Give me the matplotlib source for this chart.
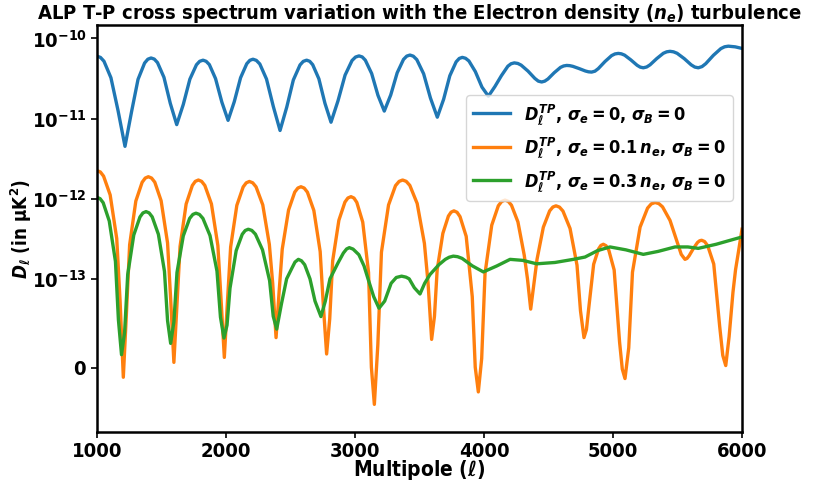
import matplotlib
matplotlib.use("Agg")
import numpy as np
import matplotlib.pyplot as plt
from matplotlib.ticker import NullLocator

plt.rcParams['font.family'] = 'DejaVu Sans'
plt.rcParams['font.weight'] = 'bold'
plt.rcParams['font.stretch'] = 'condensed'
plt.rcParams['axes.titleweight'] = 'bold'
plt.rcParams['axes.labelweight'] = 'bold'
plt.rcParams['mathtext.fontset'] = 'custom'
plt.rcParams['mathtext.rm'] = 'DejaVu Sans:weight=bold:stretch=condensed'
plt.rcParams['mathtext.bf'] = 'DejaVu Sans:weight=bold:stretch=condensed'
plt.rcParams['mathtext.sf'] = 'DejaVu Sans:weight=bold:stretch=condensed'
plt.rcParams['mathtext.it'] = 'DejaVu Sans:style=italic:weight=bold:stretch=condensed'

# ---- data ----
ell_blue = [1000, 1027, 1054, 1108, 1163, 1217, 1268, 1318, 1369, 1394, 1419, 1444, 1469, 1519, 1568, 1618,
            1669, 1720, 1771, 1796, 1822, 1846, 1871, 1919, 1968, 2016, 2064, 2113, 2161, 2185, 2209, 2235,
            2262, 2314, 2367, 2419, 2471, 2522, 2574, 2599, 2625, 2649, 2672, 2720, 2767, 2814, 2868, 2923,
            2977, 3004, 3031, 3056, 3080, 3129, 3178, 3227, 3277, 3327, 3376, 3401, 3426, 3452, 3479, 3532,
            3585, 3638, 3687, 3735, 3784, 3808, 3832, 3857, 3883, 3933, 3984, 4034, 4084, 4135, 4185, 4210,
            4235, 4262, 4288, 4341, 4394, 4421, 4447, 4471, 4496, 4544, 4593, 4617, 4641, 4665, 4689, 4738,
            4786, 4810, 4834, 4860, 4886, 4938, 4989, 5015, 5041, 5065, 5090, 5138, 5187, 5211, 5235, 5261,
            5287, 5339, 5390, 5416, 5442, 5469, 5497, 5552, 5606, 5634, 5661, 5690, 5719, 5778, 5836, 5865,
            5894, 5947, 6000]
dl_blue_e11 = [6.0, 5.79, 5.19, 3.23, 1.26, 0.45, 1.22, 3.08, 4.93, 5.50, 5.7, 5.52, 4.99, 3.27, 1.55, 0.84,
               1.50, 3.10, 4.69, 5.18, 5.35, 5.18, 4.71, 3.15, 1.60, 0.95, 1.62, 3.23, 4.83, 5.33, 5.5, 5.32,
               4.80, 3.11, 1.41, 0.71, 1.39, 3.03, 4.67, 5.17, 5.35, 5.18, 4.70, 3.13, 1.55, 0.90, 1.66, 3.48,
               5.30, 5.85, 6.05, 5.87, 5.35, 3.65, 1.95, 1.24, 1.97, 3.72, 5.47, 6.01, 6.2, 6.00, 5.44, 3.62,
               1.80, 1.04, 1.74, 3.42, 5.10, 5.62, 5.8, 5.65, 5.23, 3.85, 2.47, 1.9, 2.50, 3.43, 4.50, 4.83,
               4.95, 4.87, 4.64, 3.91, 3.17, 2.93, 2.86, 2.93, 3.12, 3.73, 4.35, 4.53, 4.6, 4.57, 4.48, 4.20,
               3.92, 3.83, 3.8, 3.90, 4.20, 5.15, 6.10, 6.40, 6.5, 6.42, 6.18, 5.40, 4.62, 4.38, 4.3, 4.40,
               4.68, 5.60, 6.52, 6.80, 6.9, 6.80, 6.52, 5.60, 4.68, 4.39, 4.3, 4.45, 4.84, 6.15, 7.46, 7.86,
               8.0, 7.85, 7.5]

ell_orange = [1000, 1026, 1051, 1102, 1153, 1179, 1204, 1228, 1253, 1301, 1350, 1374, 1398, 1423, 1448, 1497,
              1547, 1571, 1596, 1620, 1644, 1691, 1739, 1762, 1786, 1811, 1836, 1887, 1937, 1962, 1987, 2011,
              2036, 2084, 2133, 2157, 2181, 2207, 2233, 2285, 2336, 2362, 2388, 2412, 2436, 2485, 2533, 2557,
              2581, 2606, 2631, 2681, 2730, 2755, 2780, 2804, 2827, 2875, 2922, 2945, 2969, 2992, 3014, 3060,
              3105, 3127, 3150, 3177, 3205, 3260, 3314, 3342, 3369, 3397, 3425, 3482, 3538, 3566, 3594, 3616,
              3637, 3681, 3724, 3745, 3767, 3791, 3814, 3862, 3909, 3932, 3956, 3982, 4008, 4060, 4111, 4137,
              4163, 4188, 4213, 4263, 4312, 4337, 4362, 4387, 4411, 4460, 4509, 4534, 4558, 4585, 4612, 4667,
              4721, 4748, 4775, 4794, 4813, 4850, 4888, 4906, 4925, 4946, 4967, 5009, 5051, 5072, 5093, 5122,
              5151, 5210, 5268, 5297, 5326, 5355, 5384, 5442, 5500, 5529, 5558, 5574, 5590, 5623, 5655, 5671,
              5687, 5710, 5734, 5781, 5827, 5851, 5874, 5900, 5930, 5950, 5971, 6000]
dl_orange_e13 = [22.4, 21.55, 19.11, 11.15, 3.18, 0.75, -0.105, 0.61, 2.66, 9.35, 16.04, 18.08, 18.8, 18.09,
                 16.06, 9.43, 2.80, 0.774, 0.062, 0.71, 2.55, 8.58, 14.61, 16.45, 17.1, 16.45, 14.62, 8.61,
                 2.60, 0.76, 0.118, 0.74, 2.50, 8.26, 14.02, 15.78, 16.4, 15.79, 14.05, 8.37, 2.69, 0.95,
                 0.34, 0.86, 2.35, 7.22, 12.09, 13.58, 14.1, 13.57, 12.06, 7.13, 2.19, 0.69, 0.156, 0.55,
                 1.68, 5.38, 9.07, 10.20, 10.6, 10.18, 8.99, 5.10, 1.20, 0.008, -0.41, 0.26, 2.15, 8.35,
                 14.54, 16.44, 17.1, 16.46, 14.65, 8.71, 2.77, 0.96, 0.32, 0.58, 1.30, 3.69, 6.07, 6.79,
                 7.05, 6.77, 5.98, 3.39, 0.80, 0.008, -0.27, 0.105, 1.17, 4.67, 8.16, 9.23, 9.6, 9.26,
                 8.29, 5.13, 1.97, 1.00, 0.66, 0.945, 1.75, 4.41, 7.05, 7.87, 8.15, 7.85, 7.01, 4.25,
                 1.48, 0.64, 0.34, 0.43, 0.685, 1.52, 2.36, 2.61, 2.7, 2.59, 2.29, 1.29, 0.29, -0.013,
                 -0.12, 0.225, 1.21, 4.42, 7.63, 8.62, 8.96, 8.69, 7.91, 5.36, 2.80, 2.02, 1.75, 1.80,
                 1.94, 2.39, 2.84, 2.98, 3.03, 2.92, 2.59, 1.53, 0.466, 0.14, 0.026, 0.35, 0.85, 1.3,
                 2.1, 4.16]

ell_green = [1000, 1024, 1048, 1095, 1143, 1166, 1190, 1214, 1238, 1285, 1333, 1356, 1380, 1404, 1428, 1476,
             1523, 1547, 1571, 1596, 1620, 1669, 1718, 1743, 1767, 1794, 1821, 1876, 1930, 1957, 1984, 2008,
             2031, 2079, 2126, 2149, 2173, 2200, 2228, 2283, 2338, 2366, 2393, 2430, 2470, 2510, 2535, 2561,
             2585, 2610, 2651, 2690, 2736, 2770, 2806, 2870, 2910, 2935, 2956, 2985, 3030, 3070, 3101, 3145,
             3186, 3230, 3280, 3320, 3361, 3395, 3420, 3460, 3504, 3540, 3581, 3650, 3700, 3730, 3762, 3795,
             3830, 3910, 3995, 4100, 4202, 4300, 4408, 4550, 4692, 4783, 4880, 4977, 5100, 5235, 5350, 5481,
             5580, 5661, 5800, 5900, 6000]
dl_green_e13 = [10.4, 10.01, 8.90, 5.27, 1.65, 0.54, 0.148, 0.40, 1.13, 3.52, 5.91, 6.64, 6.9, 6.65, 5.93,
                3.59, 1.24, 0.53, 0.275, 0.515, 1.20, 3.44, 5.67, 6.36, 6.6, 6.36, 5.68, 3.47, 1.25, 0.57,
                0.335, 0.48, 0.895, 2.25, 3.60, 4.01, 4.16, 4.02, 3.61, 2.30, 0.98, 0.58, 0.435, 0.72, 1.0,
                1.35, 1.62, 1.75, 1.68, 1.50, 1.0, 0.75, 0.576, 0.75, 1.0, 1.6, 2.1, 2.36, 2.45, 2.35, 2.0,
                1.45, 1.0, 0.8, 0.67, 0.75, 0.95, 1.04, 1.08, 1.05, 1.0, 0.9, 0.83, 0.95, 1.13, 1.5, 1.75,
                1.86, 1.92, 1.89, 1.8, 1.45, 1.22, 1.45, 1.75, 1.7, 1.54, 1.6, 1.75, 1.87, 2.25, 2.5, 2.3,
                2.02, 2.2, 2.5, 2.5, 2.4, 2.7, 3.0, 3.33]

dl_blue = np.array(dl_blue_e11) * 1e-11
dl_orange = np.array(dl_orange_e13) * 1e-13
dl_green = np.array(dl_green_e13) * 1e-13

labels = [r'$D_\ell^{TP}$, $\sigma_e=0$, $\sigma_B=0$',
          r'$D_\ell^{TP}$, $\sigma_e=0.1\,n_e$, $\sigma_B=0$',
          r'$D_\ell^{TP}$, $\sigma_e=0.3\,n_e$, $\sigma_B=0$']
colors = ['#1f77b4', '#ff7f0e', '#2ca02c']
xticks = [1000, 2000, 3000, 4000, 5000, 6000]

fig = plt.figure(figsize=(8.14, 4.86), dpi=100)
ax = fig.add_axes([97/814, 1-432/486, (742-97)/814, (432-25)/486])

ax.plot(ell_blue, dl_blue, color=colors[0], lw=2.4, label=labels[0])
ax.plot(ell_orange, dl_orange, color=colors[1], lw=2.4, label=labels[1])
ax.plot(ell_green, dl_green, color=colors[2], lw=2.4, label=labels[2])

ax.set_yscale('symlog', linthresh=1e-13, linscale=1)
ax.set_xlim(1000, 6000)
ax.set_ylim(-7.2e-14, 1.47e-10)
ax.set_xticks(xticks)
ax.yaxis.set_minor_locator(NullLocator())
ax.tick_params(labelsize=14.5, width=1.2, length=4)
for lab in ax.get_xticklabels() + ax.get_yticklabels():
    lab.set_fontweight('bold')
for s in ax.spines.values():
    s.set_linewidth(1.8)

ax.set_xlabel(r'Multipole ($\ell$)', fontsize=15)
ax.xaxis.set_label_coords(0.5, -0.064)
ax.set_ylabel(r'$D_\ell$ (in μK$^2$)', fontsize=13.5)
ax.yaxis.set_label_coords(-0.098, 0.5)
ax.set_title(r'ALP T-P cross spectrum variation with the Electron density ($n_e$) turbulence',
             fontsize=14.5, pad=-1.5)
ax.legend(loc='upper right', bbox_to_anchor=(1.0, 0.85), fontsize=13)

fig.savefig('out.png', dpi=100)
